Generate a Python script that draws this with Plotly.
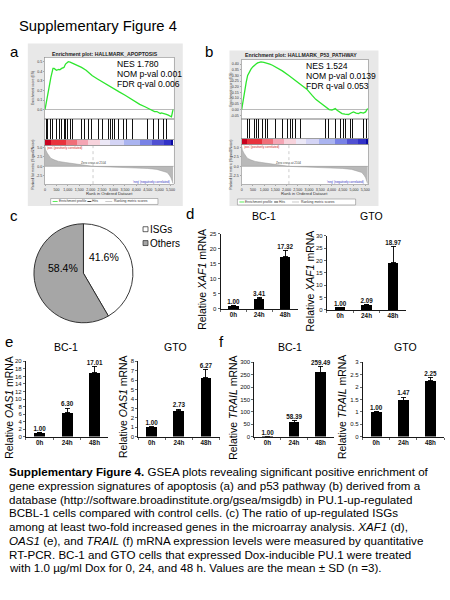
import plotly.graph_objects as go

W, H = 450, 600
FONT = "Liberation Sans, Arial, Helvetica, sans-serif"

# ------------------------------------------------------------------ data
fig_title = "Supplementary Figure 4"

gsea_a_title = "Enrichment plot: HALLMARK_APOPTOSIS"
gsea_a_stats = ["NES 1.780", "NOM p-val 0.001", "FDR q-val 0.006"]
gsea_a_rank = [0, 40, 80, 120, 160, 200, 260, 300, 350, 400, 500, 600, 650, 730, 830, 900,
               960, 1020, 1100, 1200, 1400, 1600, 1800, 2060, 2300, 2500, 2790, 3000, 3250,
               3510, 3700, 3950, 4150, 4380, 4550, 4670, 4800, 4900, 4960, 5050, 5100, 5250,
               5320, 5400, 5480, 5540, 5580, 5610]
gsea_a_es = [0.0, 0.06, 0.12, 0.17, 0.2, 0.26, 0.34, 0.40, 0.43, 0.43, 0.41, 0.42, 0.415,
             0.43, 0.44, 0.475, 0.49, 0.50, 0.495, 0.485, 0.465, 0.44, 0.41, 0.355, 0.32,
             0.29, 0.25, 0.22, 0.185, 0.15, 0.12, 0.08, 0.055, 0.03, 0.01, -0.005, -0.02,
             -0.02, -0.03, -0.04, -0.035, -0.04, -0.05, -0.058, -0.065, -0.075, -0.03, 0.0]
gsea_a_hits = [59, 117, 175, 248, 320, 393, 495, 567, 640, 727, 785, 843, 901, 973, 1046,
               1104, 1191, 1307, 1365, 1452, 1597, 1742, 1916, 2032, 2235, 2351, 2525, 2714,
               2786, 2873, 2960, 3047, 3221, 3439, 3584, 3830, 4164, 4498, 4744, 4962, 5179,
               5324, 5513]

gsea_b_title = "Enrichment plot: HALLMARK_P53_PATHWAY"
gsea_b_stats = ["NES 1.524", "NOM p-val 0.0139", "FDR q-val 0.053"]
gsea_b_rank = [0, 50, 120, 200, 265, 330, 415, 490, 560, 640, 710, 800, 860, 990, 1100,
               1250, 1370, 1600, 1810, 2100, 2400, 2700, 2900, 3140, 3300, 3500, 3730, 3900,
               4020, 4100, 4170, 4250, 4350, 4470, 4600, 4760, 4880, 4980, 5100, 5200, 5300,
               5420, 5520, 5610]
gsea_b_es = [0.0, 0.07, 0.15, 0.24, 0.30, 0.33, 0.355, 0.375, 0.39, 0.40, 0.41, 0.415, 0.42,
             0.415, 0.41, 0.40, 0.39, 0.365, 0.34, 0.30, 0.255, 0.21, 0.18, 0.125, 0.09, 0.06,
             0.023, 0.0, -0.005, 0.005, 0.009, -0.005, -0.02, -0.035, -0.04, -0.043, -0.03,
             -0.02, -0.03, -0.035, -0.025, -0.03, -0.02, 0.01]
gsea_b_hits = [193, 267, 340, 414, 561, 665, 753, 856, 930, 1048, 1151, 1298, 1446, 1519,
               1667, 1814, 2035, 2183, 2256, 2404, 2625, 2772, 2993, 3140, 3258, 3361, 3730,
               3877, 4172, 4393, 4540, 4614, 4835, 4938, 5056, 5277, 5424, 5572]

metric_rank = [0, 30, 100, 250, 400, 600, 900, 1300, 1750, 2104, 2600, 3100, 3500, 4000,
               4500, 4900, 5200, 5350, 5450, 5520, 5580, 5610]
metric_val = [5.2, 4.3, 3.45, 2.15, 1.7, 1.3, 1.0, 0.7, 0.43, 0.0, -0.12, -0.2, -0.26,
              -0.38, -0.55, -0.8, -1.2, -1.6, -2.3, -3.0, -4.0, -4.5]
zero_cross = 2104
band_edges = [0, 250, 900, 1400, 1900, 2400, 2850, 3450, 4150, 4700, 5200, 5540, 5610]
rank_ticks = [0, 500, 1000, 1500, 2000, 2500, 3000, 3500, 4000, 4500, 5000, 5500]
es_a_ticks = [-0.1, 0.0, 0.1, 0.2, 0.3, 0.4, 0.5]
es_b_ticks = [-0.05, 0.0, 0.05, 0.10, 0.15, 0.20, 0.25, 0.30, 0.35, 0.40]
metric_ticks = [-2.5, 0.0, 2.5, 5.0]

pie_labels = ["ISGs", "Others"]
pie_values = [41.6, 58.4]

time_points = ["0h", "24h", "48h"]
xaf1_bc1 = [1.00, 3.41, 17.32]
xaf1_bc1_sd = [0.1, 0.45, 2.1]
xaf1_gto = [1.00, 2.09, 18.97]
xaf1_gto_sd = [0.1, 0.15, 6.7]
oas1_bc1 = [1.00, 6.30, 17.01]
oas1_bc1_sd = [0.1, 1.3, 1.7]
oas1_gto = [1.00, 2.73, 6.27]
oas1_gto_sd = [0.05, 0.2, 0.9]
trail_bc1 = [1.00, 58.39, 259.49]
trail_bc1_sd = [0.5, 8.3, 24.5]
trail_gto = [1.00, 1.47, 2.25]
trail_gto_sd = [0.03, 0.13, 0.15]

caption = [
    "<b>Supplementary Figure 4.</b> GSEA plots revealing significant positive enrichment of",
    "gene expression signatures of apoptosis (a) and p53 pathway (b) derived from a",
    "database (http://software.broadinstitute.org/gsea/msigdb) in PU.1-up-regulated",
    "BCBL-1 cells compared with control cells. (c) The ratio of up-regulated ISGs",
    "among at least two-fold increased genes in the microarray analysis. <i>XAF1</i> (d),",
    "<i>OAS1</i> (e), and <i>TRAIL</i> (f) mRNA expression levels were measured by quantitative",
    "RT-PCR. BC-1 and GTO cells that expressed Dox-inducible PU.1 were treated",
    "with 1.0 \u00b5g/ml Dox for 0, 24, and 48 h. Values are the mean \u00b1 SD (n =3).",
]

# ------------------------------------------------------------------ styles
BAND_COLORS = ['#c8001e', '#e8323c', '#f06e78', '#f5a5b4', '#f7d3dc', '#ece8f6', '#d4d4f5',
               '#aab4f0', '#7882e6', '#5050d2', '#3232c8', '#0a0aa0']
ES_GREEN = '#2ee62e'
PIE_GRAY = '#a6a6a6'
BOX_GRAY = '#e8e8e8'

fig = go.Figure()
annots = []
shapes = []
_axn = [0]


def add_axes(x0, x1, top, bot, xopts, yopts):
    _axn[0] += 1
    s = '' if _axn[0] == 1 else str(_axn[0])
    fig.update_layout(**{
        'xaxis' + s: dict(domain=[x0 / W, x1 / W], anchor='y' + s, **xopts),
        'yaxis' + s: dict(domain=[1 - bot / H, 1 - top / H], anchor='x' + s, **yopts),
    })
    return 'x' + s, 'y' + s


def text(x, y, s, size, color='black', xanchor='left', yanchor='middle', angle=0):
    annots.append(dict(x=x / W, y=1 - y / H, xref='paper', yref='paper', text=s,
                       showarrow=False, xanchor=xanchor, yanchor=yanchor, textangle=angle,
                       borderpad=0, borderwidth=0,
                       font=dict(size=size, color=color, family=FONT)))


def rect(x0, y0, x1, y1, fill, line='rgba(0,0,0,0)', lw=0, layer='below'):
    shapes.append(dict(type='rect', xref='paper', yref='paper', x0=x0 / W, x1=x1 / W,
                       y0=1 - y1 / H, y1=1 - y0 / H, fillcolor=fill,
                       line=dict(color=line, width=lw), layer=layer))


def pline(x0, y0, x1, y1, color, lw=0.8):
    shapes.append(dict(type='line', xref='paper', yref='paper', x0=x0 / W, x1=x1 / W,
                       y0=1 - y0 / H, y1=1 - y1 / H, line=dict(color=color, width=lw),
                       layer='above'))


# ------------------------------------------------------------------ GSEA panels
def gsea(g, title, stats, rank, es, hits, es_ticks, es_fmt):
    L, R = g['L'], g['R']
    rmax = g['rmax']
    tiny = dict(size=3.6, family=FONT, color='#333')
    frame = dict(showline=True, mirror=True, linecolor='#8c8c8c', linewidth=0.6,
                 showgrid=False, zeroline=False)
    rect(g['box'][0], g['box'][1], g['box'][2], g['box'][3], BOX_GRAY)
    rect(L, g['es'][0], R, g['met'][1], 'white')
    # ES curve
    xa, ya = add_axes(L, R, g['es'][0], g['es'][1],
                      dict(range=[0, rmax], showticklabels=False, ticks='', **frame),
                      dict(range=g['es_range'], tickvals=es_ticks,
                           ticktext=[es_fmt.format(v) for v in es_ticks],
                           tickfont=tiny, ticks='outside', ticklen=1.5, tickwidth=0.5,
                           tickcolor='#666', showline=True, mirror=True,
                           linecolor='#8c8c8c', linewidth=0.6, showgrid=False,
                           zeroline=True, zerolinecolor='#8c8c8c', zerolinewidth=0.6))
    fig.add_trace(go.Scatter(x=rank, y=es, mode='lines',
                             line=dict(color=ES_GREEN, width=1.3),
                             xaxis=xa, yaxis=ya, showlegend=False, hoverinfo='skip'))
    # hits
    xh, yh = add_axes(L, R, g['es'][1], g['hits'],
                      dict(range=[0, rmax], showticklabels=False, ticks='', **frame),
                      dict(range=[0, 1], showticklabels=False, ticks='', **frame))
    fig.add_trace(go.Bar(x=hits, y=[1] * len(hits), width=28,
                         marker=dict(color='#111', line=dict(width=0)),
                         xaxis=xh, yaxis=yh, showlegend=False, hoverinfo='skip'))
    # colour band
    xb, yb = add_axes(L, R, g['hits'], g['band'],
                      dict(range=[0, rmax], showticklabels=False, ticks='', **frame),
                      dict(range=[0, 1], showticklabels=False, ticks='', **frame))
    centers = [(a + b) / 2 for a, b in zip(band_edges[:-1], band_edges[1:])]
    widths = [b - a for a, b in zip(band_edges[:-1], band_edges[1:])]
    fig.add_trace(go.Bar(x=centers, y=[1] * len(centers), width=widths,
                         marker=dict(color=BAND_COLORS, line=dict(width=0)),
                         xaxis=xb, yaxis=yb, showlegend=False, hoverinfo='skip'))
    # ranked metric
    xm, ym = add_axes(L, R, g['band'], g['met'][1],
                      dict(range=[0, rmax], tickvals=rank_ticks,
                           ticktext=[f"{v:,}" for v in rank_ticks], tickfont=tiny,
                           ticks='outside', ticklen=1.5, tickwidth=0.5, tickcolor='#666',
                           **frame),
                      dict(range=g['met_range'], tickvals=metric_ticks,
                           ticktext=[f"{v:.1f}" for v in metric_ticks], tickfont=tiny,
                           ticks='outside', ticklen=1.5, tickwidth=0.5, tickcolor='#666',
                           **frame))
    fig.add_trace(go.Scatter(x=metric_rank, y=metric_val, mode='lines', fill='tozeroy',
                             fillcolor='#b9b9b9', line=dict(color='#9a9a9a', width=0.5),
                             xaxis=xm, yaxis=ym, showlegend=False, hoverinfo='skip'))
    shapes.append(dict(type='line', xref=xm, yref=ym, x0=zero_cross, x1=zero_cross,
                       y0=g['met_range'][0], y1=g['met_range'][1],
                       line=dict(color='#999', width=0.5, dash='dot')))
    shapes.append(dict(type='line', xref=xm, yref=ym, x0=0, x1=rmax, y0=0, y1=0,
                       line=dict(color='#888', width=0.5)))
    annots.append(dict(x=zero_cross, y=0.9, xref=xm, yref=ym, showarrow=False,
                       text=f"Zero cross at {zero_cross}", font=dict(size=3, color='#444',
                                                                      family=FONT)))
    text(L + 2, g['band'] + 2.2, "'pos' (positively correlated)", 3, '#d02020')
    text(R - 4, g['met'][1] - 2.5, "'neg' (negatively correlated)", 3, '#3030c0',
         xanchor='right')
    # labels
    text(g['title'][0], g['title'][1], f"<b>{title}</b>", 5.2, '#222', xanchor='center')
    for i, s in enumerate(stats):
        text(g['stats'][0], g['stats'][1] + 10 * i, s, 8.6)
    text(g['ylab_x'], (g['es'][0] + g['es'][1]) / 2, "Enrichment score (ES)", 3.4, '#333',
         xanchor='center', angle=-90)
    text(g['ylab_x'], (g['band'] + g['met'][1]) / 2, "Ranked list metric (Signal2Noise)",
         3.4, '#333', xanchor='center', angle=-90)
    text((L + R) / 2, g['met'][1] + 9.5, "Rank in Ordered Dataset", 4.2, '#333',
         xanchor='center')
    # legend box
    lx0, ly0, lx1, ly1 = g['legend']
    rect(lx0, ly0, lx1, ly1, 'white', '#777', 0.5, layer='above')
    ym_ = (ly0 + ly1) / 2
    pline(lx0 + 2, ym_, lx0 + 7, ym_, ES_GREEN, 0.8)
    text(lx0 + 8, ym_, "Enrichment profile", 3.4, '#333')
    pline(lx0 + 37, ym_, lx0 + 41, ym_, '#111', 0.8)
    text(lx0 + 42, ym_, "Hits", 3.4, '#333')
    pline(lx0 + 55, ym_, lx0 + 62, ym_, '#bbb', 0.8)
    text(lx0 + 64, ym_, "Ranking metric scores", 3.4, '#333')


geom_a = dict(box=(27, 41, 183, 205), L=44.3, R=174, rmax=5644,
              es=(55, 117), hits=138, band=144, met=(144, 183),
              es_range=[-0.096, 0.544], met_range=[-4.66, 5.44],
              title=(105, 51.5), stats=(117, 62), ylab_x=32, legend=(50, 197.5, 158, 203.5))
geom_b = dict(box=(230, 48, 380, 205), L=242.3, R=369.5, rmax=5629,
              es=(57.5, 117), hits=137, band=143, met=(143, 183),
              es_range=[-0.081, 0.4365], met_range=[-4.66, 5.70],
              title=(302, 52.5), stats=(307, 64), ylab_x=232, legend=(238, 198, 357, 204))

gsea(geom_a, gsea_a_title, gsea_a_stats, gsea_a_rank, gsea_a_es, gsea_a_hits, es_a_ticks,
     "{:.1f}")
gsea(geom_b, gsea_b_title, gsea_b_stats, gsea_b_rank, gsea_b_es, gsea_b_hits, es_b_ticks,
     "{:.2f}")

# ------------------------------------------------------------------ pie (c)
fig.add_trace(go.Pie(labels=pie_labels, values=pie_values, sort=False, direction='clockwise',
                     rotation=0, marker=dict(colors=['white', PIE_GRAY],
                                             line=dict(color='#222', width=0.9)),
                     textinfo='none', showlegend=False, hoverinfo='skip',
                     domain=dict(x=[33 / W, 133 / W], y=[1 - 323 / H, 1 - 223 / H])))
text(104, 257, f"{pie_values[0]}%", 10.5, xanchor='center')
text(62, 268, f"{pie_values[1]}%", 10.5, xanchor='center')
for i, (lab, col) in enumerate(zip(pie_labels, ['white', PIE_GRAY])):
    yy = 229 + 14 * i
    rect(143, yy - 3, 148, yy + 2, col, '#222', 0.7, layer='above')
    text(150, yy, lab, 10)


# ------------------------------------------------------------------ bar panels
def bars(x0, x1, top, bot, ymax, dtick, vals, sds, title, title_xy, ylab, ylab_x):
    xa, ya = add_axes(x0, x1, top, bot,
                      dict(type='category', range=[-0.5, 2.5], showline=True,
                           linecolor='black', linewidth=0.9, ticks='outside', ticklen=2,
                           tickson='boundaries', tickwidth=0.8,
                           tickvals=time_points, ticktext=[f"<b>{t}</b>" for t in time_points],
                           tickfont=dict(size=6.3, family=FONT, color='#111'),
                           showgrid=False, zeroline=False),
                      dict(range=[0, ymax], dtick=dtick, showline=True, linecolor='black',
                           linewidth=0.9, ticks='outside', ticklen=2, tickwidth=0.8,
                           tickfont=dict(size=6, family=FONT, color='#111'),
                           showgrid=False, zeroline=False))
    fig.add_trace(go.Bar(x=time_points, y=vals, width=0.4,
                         marker=dict(color='black', line=dict(width=0)),
                         error_y=dict(type='data', symmetric=False, array=sds,
                                      arrayminus=[0] * len(sds), color='black',
                                      thickness=0.9, width=2.5),
                         xaxis=xa, yaxis=ya, showlegend=False, hoverinfo='skip'))
    fig.add_trace(go.Scatter(x=time_points, y=[v + s for v, s in zip(vals, sds)],
                             mode='text', text=[f"<b>{v:.2f}</b>" for v in vals],
                             textposition='top center', cliponaxis=False,
                             textfont=dict(size=6.3, family=FONT, color='#111'),
                             xaxis=xa, yaxis=ya, showlegend=False, hoverinfo='skip'))
    text(title_xy[0], title_xy[1], title, 10.5, xanchor='center')
    text(ylab_x, (top + bot) / 2 + 8, ylab, 10.5, xanchor='center', angle=-90)


bars(221, 299, 233, 309, 25, 5, xaf1_bc1, xaf1_bc1_sd, "BC-1", (265, 215),
     "Relative <i>XAF1</i> mRNA", 203)
bars(328, 408, 235, 310, 30, 5, xaf1_gto, xaf1_gto_sd, "GTO", (373, 215),
     "Relative <i>XAF1</i> mRNA", 311)
bars(25, 108, 362, 438, 20, 2, oas1_bc1, oas1_bc1_sd, "BC-1", (65, 347),
     "Relative <i>OAS1</i> mRNA", 8)
bars(138, 220, 362, 438, 8, 1, oas1_gto, oas1_gto_sd, "GTO", (176, 347),
     "Relative <i>OAS1</i> mRNA", 123)
bars(255, 335, 363, 438, 300, 50, trail_bc1, trail_bc1_sd, "BC-1", (291, 347),
     "Relative <i>TRAIL</i> mRNA", 234)
bars(364, 446, 363, 438, 3, 0.5, trail_gto, trail_gto_sd, "GTO", (407, 347),
     "Relative <i>TRAIL</i> mRNA", 344)

# ------------------------------------------------------------------ labels & caption
text(18, 23, fig_title, 14.8)
for lab, x, y in [('a', 9, 49), ('b', 205, 49), ('c', 9, 215), ('d', 186, 213),
                  ('e', 4, 342), ('f', 219, 342)]:
    text(x, y, lab, 15)
for i, line in enumerate(caption):
    text(8, 473.3 + 13.9 * i, line, 11.6)

fig.update_layout(width=W, height=H, margin=dict(l=0, r=0, t=0, b=0),
                  paper_bgcolor='white', plot_bgcolor='rgba(0,0,0,0)',
                  annotations=annots, shapes=shapes, bargap=0,
                  font=dict(family=FONT, color='black'))
fig.write_html("out.html", config={'displayModeBar': False, 'staticPlot': True},
               post_script="document.body.style.margin='0';document.body.style.overflow='hidden';")
